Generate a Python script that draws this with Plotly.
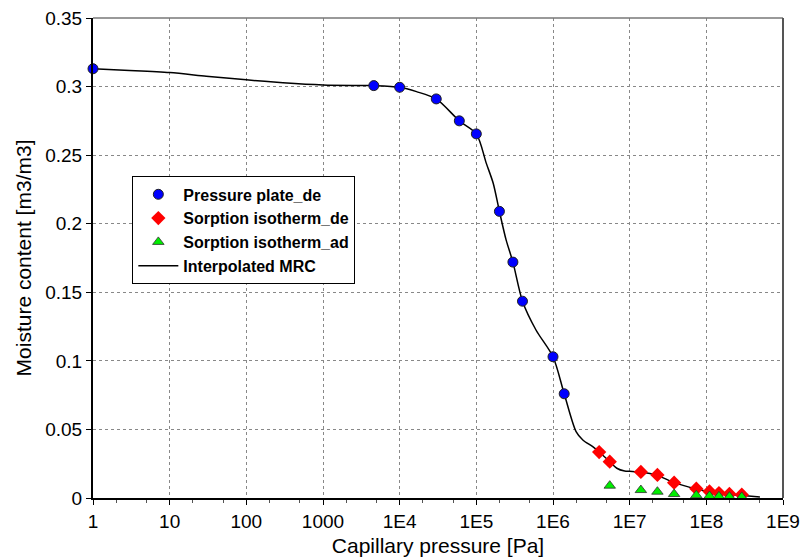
import plotly.graph_objects as go

# Pressure plate (desorption)
pp_x = [1, 4600, 1e4, 3e4, 6e4, 1e5, 2e5, 3e5, 4e5, 1e6, 1.4e6]
pp_y = [0.313, 0.3007, 0.2995, 0.291, 0.275, 0.2655, 0.209, 0.172, 0.1435, 0.103, 0.076]

# Sorption isotherm desorption
sd_x = [4e6, 5.5e6, 1.4e7, 2.3e7, 3.8e7, 7.4e7, 1.1e8, 1.46e8, 2e8, 2.9e8]
sd_y = [0.0335, 0.0265, 0.019, 0.0168, 0.0112, 0.0068, 0.0048, 0.0036, 0.0029, 0.0024]

# Sorption isotherm adsorption
sa_x = [5.5e6, 1.4e7, 2.3e7, 3.8e7, 7.4e7, 1.1e8, 1.46e8, 2e8, 2.9e8]
sa_y = [0.009, 0.0058, 0.0046, 0.0029, 0.002, 0.0015, 0.0012, 0.001, 0.0008]

# Interpolated MRC
mrc_x = [1, 3, 10, 30, 100, 300, 1000, 3000, 4600, 1e4, 1.66e4, 3e4, 6e4, 1e5, 1.35e5,
         1.66e5, 2e5, 2.45e5, 3e5, 4e5, 6e5, 1e6, 1.4e6, 2e6, 2.45e6, 3.3e6, 4e6, 5.5e6,
         6.8e6, 8.6e6, 1e7, 1.4e7, 2.3e7, 3.8e7, 7.4e7, 1.1e8, 1.5e8, 2e8, 3e8, 5e8]
mrc_y = [0.313, 0.3118, 0.3102, 0.3076, 0.3049, 0.3028, 0.3012, 0.3008, 0.3007, 0.2995, 0.2963,
         0.291, 0.275, 0.2655, 0.244, 0.2295, 0.209, 0.188, 0.172, 0.1435, 0.1225, 0.103,
         0.076, 0.0484, 0.0423, 0.0374, 0.0335, 0.0265, 0.0217, 0.0197, 0.0195, 0.019,
         0.0165, 0.0112, 0.0066, 0.0045, 0.0034, 0.0026, 0.0018, 0.0008]

x_tickvals = [1, 10, 100, 1000, 1e4, 1e5, 1e6, 1e7, 1e8, 1e9]
x_ticktext = ["1", "10", "100", "1000", "1E4", "1E5", "1E6", "1E7", "1E8", "1E9"]
y_tickvals = [0, 0.05, 0.1, 0.15, 0.2, 0.25, 0.3, 0.35]
y_ticktext = ["0", "0.05", "0.1", "0.15", "0.2", "0.25", "0.3", "0.35"]

FONT = "Liberation Sans, Arial, sans-serif"

fig = go.Figure()
fig.add_trace(go.Scatter(x=mrc_x, y=mrc_y, mode="lines", name="Interpolated MRC",
                         line=dict(color="black", width=1.5, shape="spline", smoothing=0.8),
                         legendrank=4))
fig.add_trace(go.Scatter(x=pp_x, y=pp_y, mode="markers", name="Pressure plate_de",
                         marker=dict(symbol="circle", size=10, color="#0000FF",
                                     line=dict(color="#202020", width=1)),
                         legendrank=1, cliponaxis=False))
fig.add_trace(go.Scatter(x=sd_x, y=sd_y, mode="markers", name="Sorption isotherm_de",
                         marker=dict(symbol="diamond", size=11, color="#FF0000",
                                     line=dict(width=0)),
                         legendrank=2))
fig.add_trace(go.Scatter(x=sa_x, y=sa_y, mode="markers", name="Sorption isotherm_ad",
                         marker=dict(symbol="triangle-up", size=10, color="#00EE00",
                                     line=dict(color="#303030", width=0.8)),
                         legendrank=3))

fig.update_layout(
    width=802, height=560,
    margin=dict(l=93, r=19, t=18, b=62),
    paper_bgcolor="white", plot_bgcolor="white",
    font=dict(family=FONT, size=19, color="black"),
    showlegend=True,
    legend=dict(x=0.057, y=0.67, xanchor="left", yanchor="top",
                bgcolor="white", bordercolor="black", borderwidth=1,
                font=dict(family=FONT, size=16, color="black", weight="bold"),
                tracegroupgap=0, itemwidth=40),
    xaxis=dict(type="log", range=[0, 9], tickvals=x_tickvals, ticktext=x_ticktext,
               automargin=False,
               showgrid=True, gridcolor="#888888", griddash="dot", gridwidth=1,
               showline=True, linecolor="black", linewidth=2,
               ticks="outside", ticklen=5, tickcolor="black",
               minor=dict(ticks="outside", ticklen=3, tickcolor="#555555", showgrid=False),
               title=dict(text="Capillary pressure [Pa]", standoff=8,
                          font=dict(family=FONT, size=21)),
               tickfont=dict(family=FONT, size=19), zeroline=False),
    yaxis=dict(range=[0, 0.35], tickvals=y_tickvals, ticktext=y_ticktext,
               automargin=False,
               showgrid=True, gridcolor="#888888", griddash="dot", gridwidth=1,
               showline=True, linecolor="black", linewidth=2,
               ticks="outside", ticklen=5, tickcolor="black",
               title=dict(text="Moisture content [m3/m3]", standoff=8,
                          font=dict(family=FONT, size=21)),
               tickfont=dict(family=FONT, size=19), zeroline=False),
)

# gray frame on top and right
fig.add_shape(type="line", xref="paper", yref="paper", x0=0, x1=1, y0=1, y1=1,
              line=dict(color="#777777", width=1.5))
fig.add_shape(type="line", xref="paper", yref="paper", x0=1, x1=1, y0=0, y1=1,
              line=dict(color="#555555", width=2))

fig.write_html("out.html")
